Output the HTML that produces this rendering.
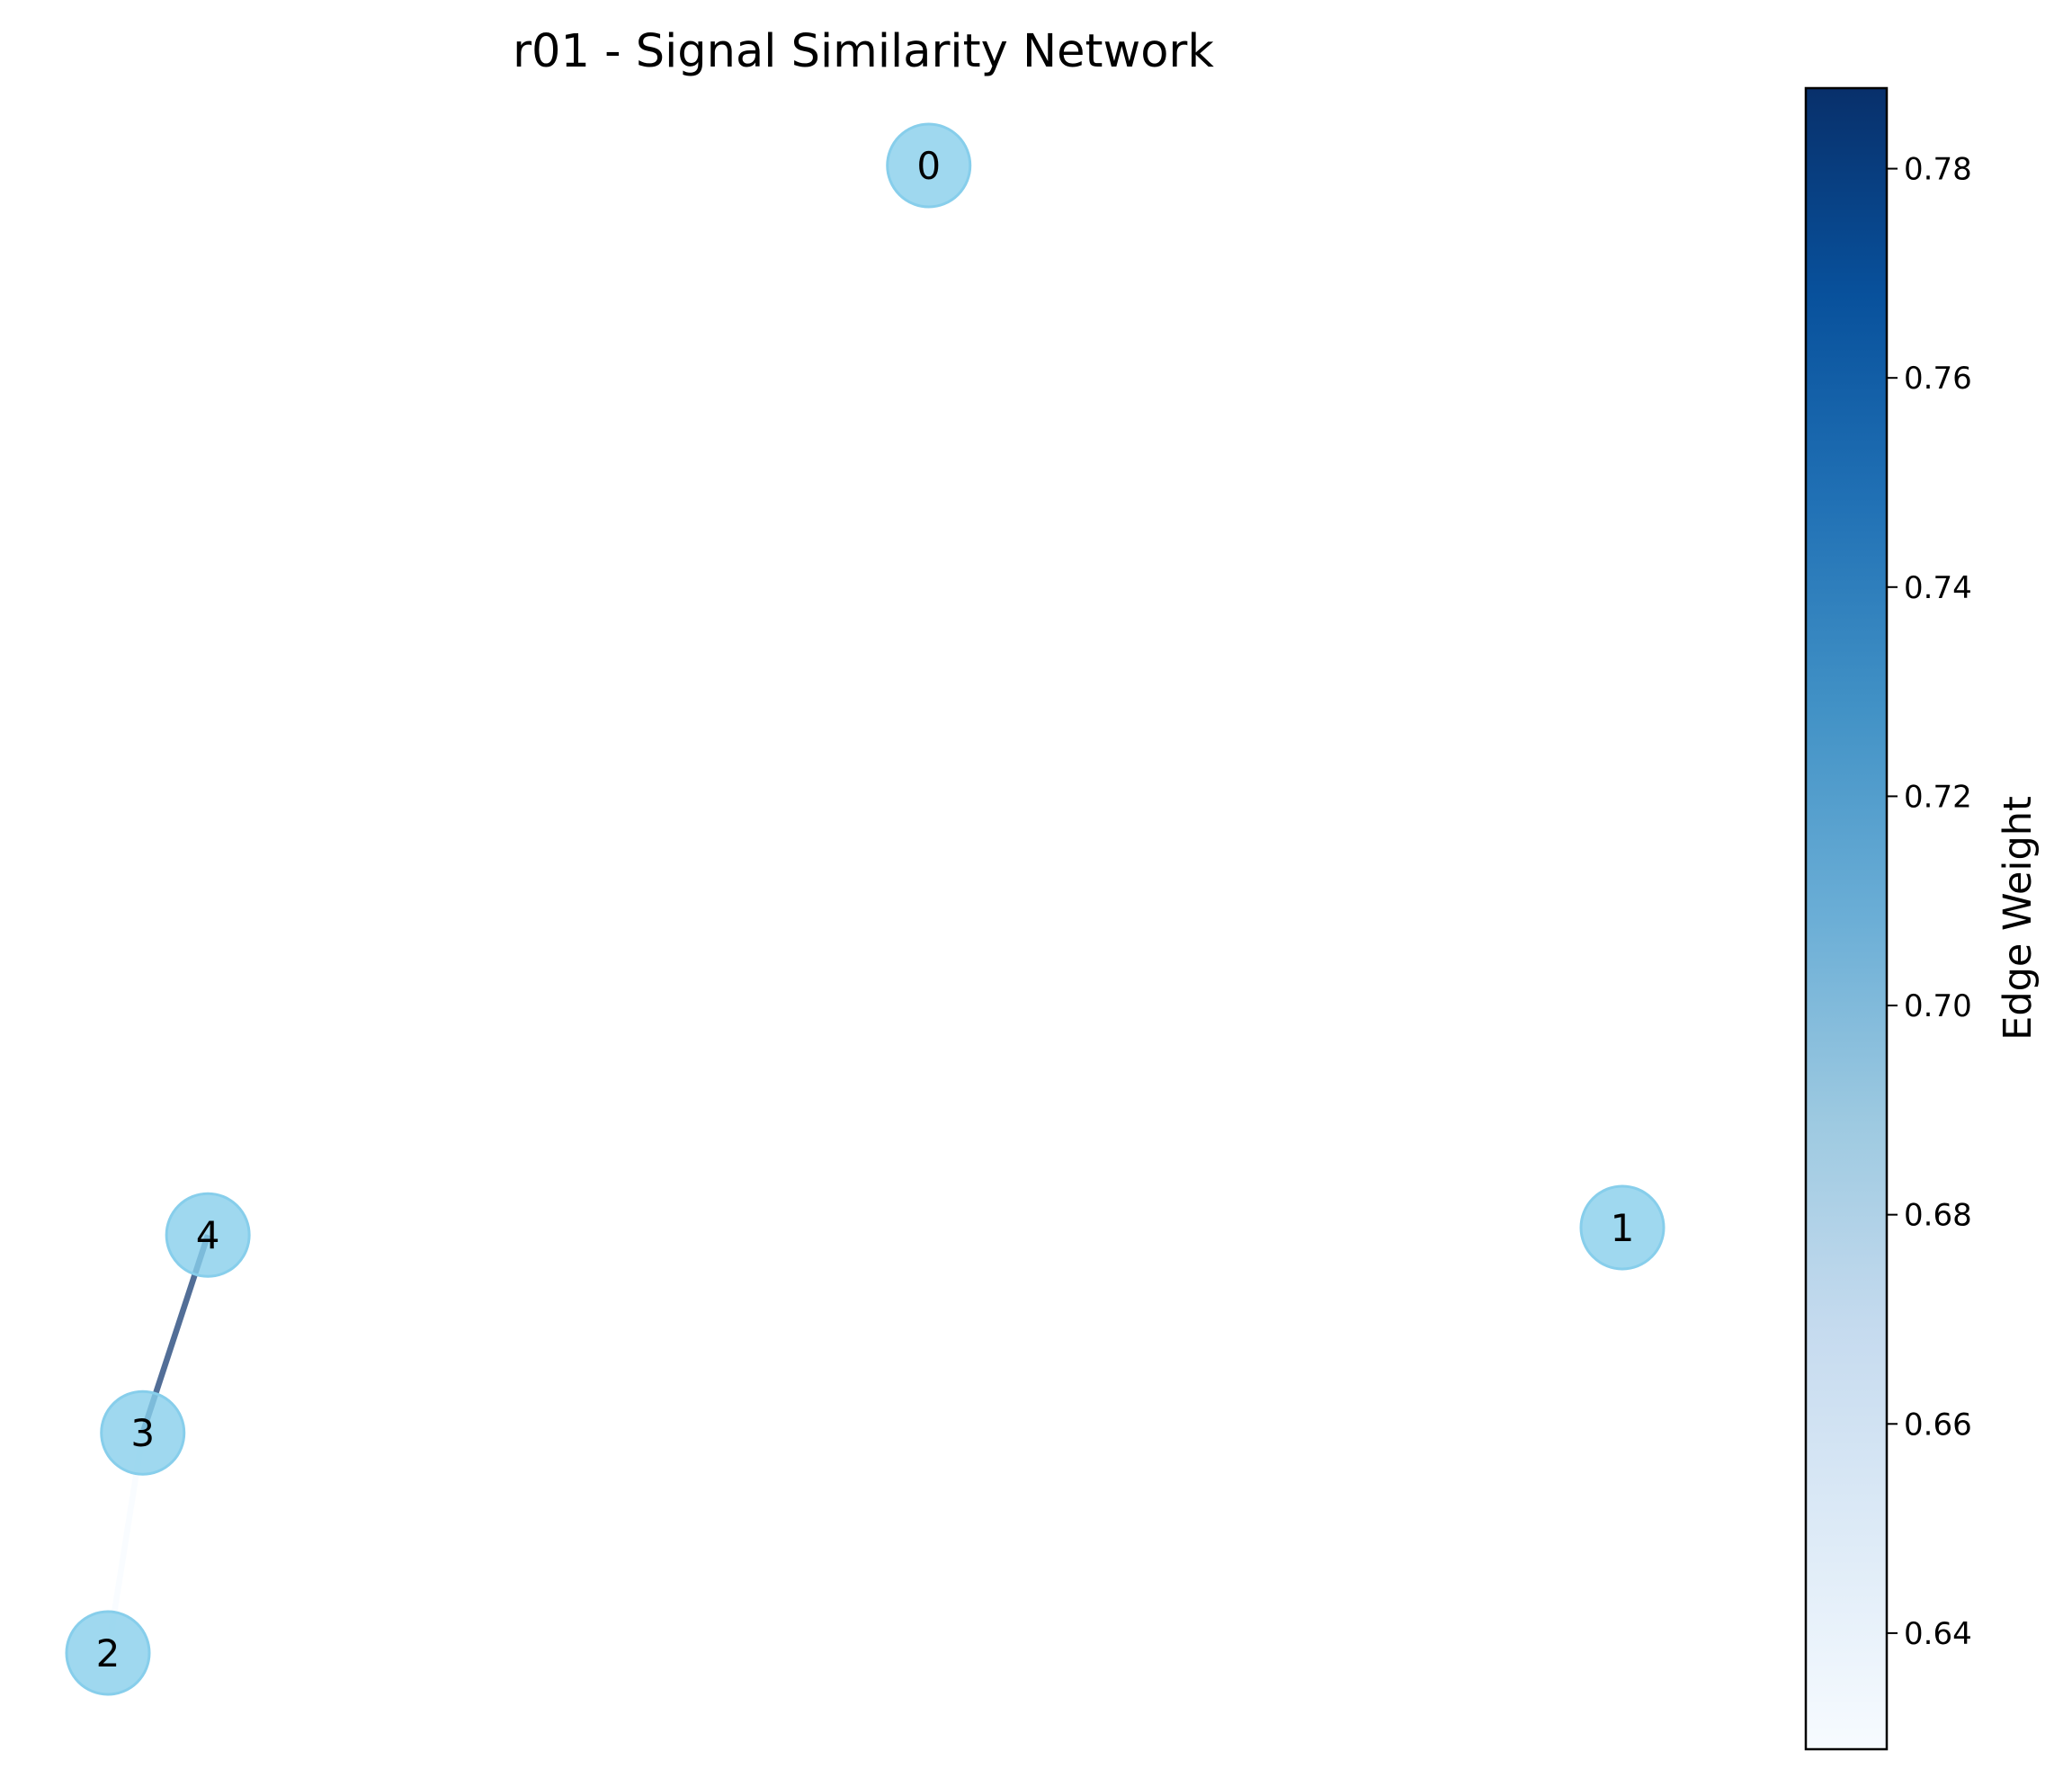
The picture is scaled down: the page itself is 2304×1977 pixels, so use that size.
<!DOCTYPE html>
<html><head><meta charset="utf-8"><style>
html,body{margin:0;padding:0;background:#fff;}
svg{display:block;font-family:"DejaVu Sans","Liberation Sans",sans-serif;}
</style></head><body>
<svg id="chart" width="2304" height="1977" viewBox="0 0 2304 1977">
<defs>
<linearGradient id="blues" x1="0" y1="1" x2="0" y2="0">
<stop offset="0" stop-color="#f7fbff"/><stop offset="0.125" stop-color="#deebf7"/>
<stop offset="0.25" stop-color="#c6dbef"/><stop offset="0.375" stop-color="#9ecae1"/>
<stop offset="0.5" stop-color="#6baed6"/><stop offset="0.625" stop-color="#4292c6"/>
<stop offset="0.75" stop-color="#2171b5"/><stop offset="0.875" stop-color="#08519c"/>
<stop offset="1" stop-color="#08306b"/></linearGradient>
</defs>
<text x="960" y="74" font-size="51" text-anchor="middle" fill="#000">r01 - Signal Similarity Network</text>
<g id="edges"></g>
<g id="nodes"></g>
<g id="colorbar"></g>
</svg>
<script>
const nodeIds = ["0","1","2","3","4"];
const nodeX = [0.542, 1.0, 0.0, 0.023, 0.066];
const nodeY = [1.0, 0.286, 0.0, 0.148, 0.281];
const edgeFrom = [3, 2];
const edgeTo = [4, 3];
const edgeWeights = [0.788, 0.629];
const cbTicks = [0.64, 0.66, 0.68, 0.70, 0.72, 0.74, 0.76, 0.78];
const cbMin = 0.6289, cbMax = 0.7877;

const NS = "http://www.w3.org/2000/svg";
function mk(t, a){const e=document.createElementNS(NS,t);for(const k in a)e.setAttribute(k,a[k]);return e;}
const sx = v => 120 + v*1684;
const sy = v => 1838 - v*1654;
const stops=[[247,251,255],[222,235,247],[198,219,239],[158,202,225],[107,174,214],[66,146,198],[33,113,181],[8,81,156],[8,48,107]];
function blues(t){t=Math.max(0,Math.min(1,t));const p=t*8,i=Math.min(7,Math.floor(p)),f=p-i;const a=stops[i],b=stops[i+1];
return `rgb(${a.map((c,k)=>Math.round(c+(b[k]-c)*f)).join(',')})`;}
const gE=document.getElementById('edges');
edgeWeights.forEach((w,i)=>{
  const a=edgeFrom[i],b=edgeTo[i];
  const l=mk('line',{x1:sx(nodeX[a]),y1:sy(nodeY[a]),x2:sx(nodeX[b]),y2:sy(nodeY[b]),stroke:blues((w-cbMin)/(cbMax-cbMin)),'stroke-width':6.6,'stroke-opacity':0.7});
  
  
  gE.appendChild(l);
});
const gN=document.getElementById('nodes');
nodeIds.forEach((id,i)=>{
  const c=mk('circle',{cx:sx(nodeX[i]),cy:sy(nodeY[i]),r:46,fill:'#87ceeb','fill-opacity':0.8,stroke:'#87ceeb','stroke-width':3});
  
  
  gN.appendChild(c);
  const t=mk('text',{x:sx(nodeX[i]),y:sy(nodeY[i])+15,'font-size':42,'text-anchor':'middle',fill:'#000'});
  t.textContent=id;
  
  
  gN.appendChild(t);
});
const gC=document.getElementById('colorbar');
const cbX=2008,cbW=90,cbTop=98,cbBot=1945;
const cy=v=>cbBot-(v-cbMin)/(cbMax-cbMin)*(cbBot-cbTop);
const r=mk('rect',{x:cbX,y:cbTop,width:cbW,height:cbBot-cbTop,fill:'url(#blues)',stroke:'#000','stroke-width':2.5});


gC.appendChild(r);
cbTicks.forEach(v=>{
  const y=cy(v);
  const tk=mk('line',{x1:cbX+cbW,y1:y,x2:cbX+cbW+12,y2:y,stroke:'#000','stroke-width':2});
  
  
  gC.appendChild(tk);
  const t=mk('text',{x:cbX+cbW+19,y:y+12,'font-size':34,fill:'#000'});
  t.textContent=v.toFixed(2);
  
  
  gC.appendChild(t);
});
const lab=mk('text',{x:0,y:0,'font-size':43,'text-anchor':'middle',fill:'#000',transform:'translate(2258,1021) rotate(-90)'});
lab.textContent='Edge Weight';


gC.appendChild(lab);
</script>
</body></html>
